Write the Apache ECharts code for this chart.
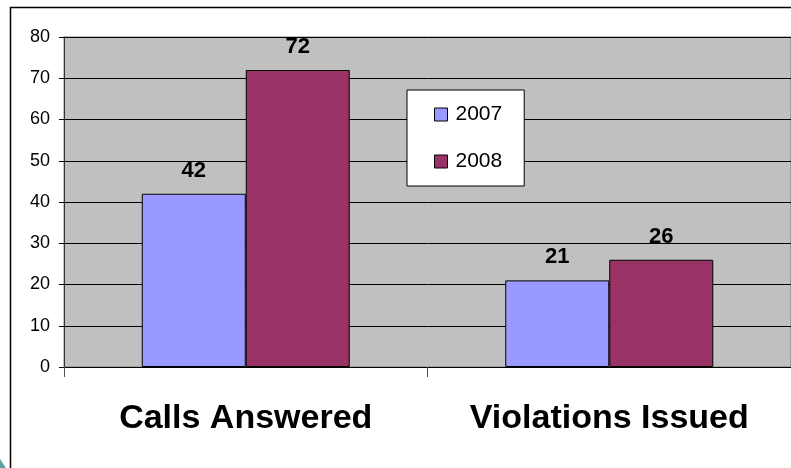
<!DOCTYPE html>
<html>
<head>
<meta charset="utf-8">
<script src="https://cdn.jsdelivr.net/npm/echarts@6/dist/echarts.min.js"></script>
<style>
  html, body { margin: 0; padding: 0; background: #fff; }
  #main { width: 791px; height: 468px; }
</style>
</head>
<body>
<div id="main"></div>
<script>
// chart data
const categories = ['Calls Answered', 'Violations Issued'];
const years = ['2007', '2008'];
const values2007 = [42, 21];
const values2008 = [72, 26];
const yMin = 0, yMax = 80, yStep = 10;

const font = 'Arial, "Liberation Sans", sans-serif';
const barLabel = {
  show: true,
  position: 'top',
  distance: 12,
  fontFamily: font,
  fontSize: 22,
  fontWeight: 'bold',
  color: '#000'
};

const chart = echarts.init(document.getElementById('main'));
const option = {
  animation: false,
  grid: {
    left: 64, top: 37, width: 732, height: 330,
    show: true, backgroundColor: '#C0C0C0', borderColor: '#808080', borderWidth: 1
  },
  legend: {
    data: years,
    orient: 'vertical',
    left: 407, top: 90,
    padding: [14, 22, 14, 27],
    itemGap: 26,
    itemWidth: 13, itemHeight: 13,
    icon: 'rect',
    backgroundColor: '#fff',
    borderColor: '#000',
    borderWidth: 1,
    itemStyle: { borderColor: '#000', borderWidth: 1 },
    textStyle: { fontFamily: font, fontSize: 21, color: '#000', padding: [0, 0, 0, 3] }
  },
  xAxis: {
    type: 'category',
    data: categories,
    axisLine: { lineStyle: { color: '#000', width: 1 } },
    axisTick: { show: true, length: 10, lineStyle: { color: '#555' } },
    axisLabel: { margin: 35, fontFamily: font, fontSize: 34, fontWeight: 'bold', color: '#000' }
  },
  yAxis: {
    type: 'value',
    min: yMin, max: yMax, interval: yStep,
    axisLine: { show: true, lineStyle: { color: '#333' } },
    axisTick: { show: true, length: 5, lineStyle: { color: '#000' } },
    axisLabel: { margin: 14, fontFamily: font, fontSize: 18, color: '#000' },
    splitLine: { lineStyle: { color: '#000', width: 1 } }
  },
  series: [
    {
      name: years[0], type: 'bar', data: values2007,
      barWidth: 104, barGap: '0%',
      itemStyle: { color: '#9999FF', borderColor: '#000', borderWidth: 1 },
      label: barLabel
    },
    {
      name: years[1], type: 'bar', data: values2008,
      barWidth: 104,
      itemStyle: { color: '#993366', borderColor: '#000', borderWidth: 1 },
      label: barLabel
    }
  ],
  graphic: [
    {
      type: 'rect', z: 100, silent: true,
      shape: { x: 10.5, y: 7.5, width: 800, height: 480 },
      style: { fill: null, stroke: '#000', lineWidth: 1.5 }
    },
    {
      type: 'polygon', z: 100, silent: true,
      shape: { points: [[0, 459], [0, 468], [6, 468]] },
      style: { fill: '#5F9EA0' }
    }
  ]
};
chart.setOption(option);
</script>
</body>
</html>
